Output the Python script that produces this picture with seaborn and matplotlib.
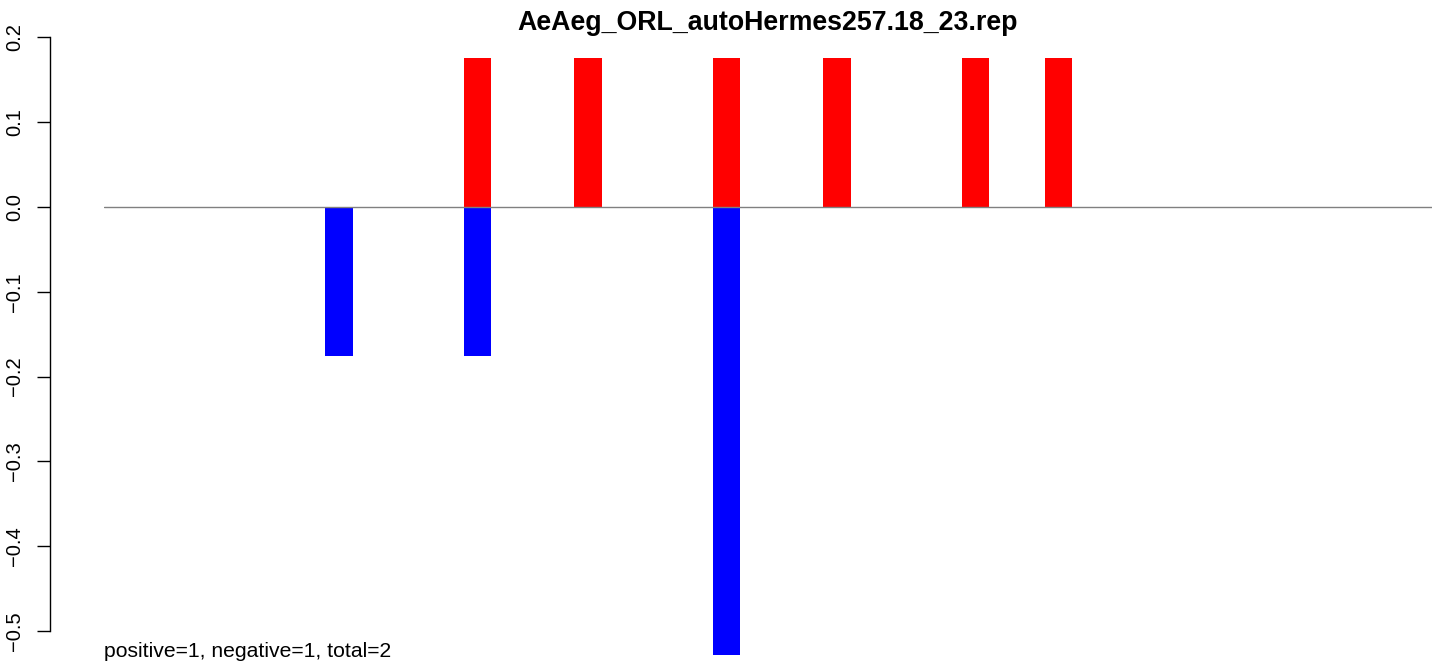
import matplotlib
matplotlib.use("Agg")
import matplotlib.pyplot as plt
import seaborn as sns
import numpy as np
import pandas as pd

# bar slots along the sequence (48 slots, index 0..47)
n_slots = 48
pos_idx = [13, 17, 22, 26, 31, 34]
pos_val = [0.176, 0.176, 0.176, 0.176, 0.176, 0.176]
neg_idx = [8, 13, 22]
neg_val = [-0.176, -0.176, -0.528]
yticks = [-0.5, -0.4, -0.3, -0.2, -0.1, 0.0, 0.1, 0.2]
title = "AeAeg_ORL_autoHermes257.18_23.rep"
note = "positive=1, negative=1, total=2"

df = pd.DataFrame({
    "slot": pos_idx + neg_idx,
    "value": pos_val + neg_val,
    "sign": ["pos"] * len(pos_idx) + ["neg"] * len(neg_idx),
})

sns.set_style("white")
plt.rcParams['font.family'] = ['Liberation Sans', 'DejaVu Sans']
plt.rcParams['text.color'] = 'black'
plt.rcParams['ytick.color'] = 'black'

fig = plt.figure(figsize=(14.41, 6.66), dpi=100)
W, H = 1441, 666
# axes placed in pixel coords: x 104..1432, y 30..660
ax = fig.add_axes([104 / W, 1 - 660 / H, (1432 - 104) / W, (660 - 30) / H])

sns.barplot(data=df, x="slot", y="value", hue="sign", order=list(range(n_slots)),
            palette={"pos": "#ff0000", "neg": "#0000ff"}, dodge=False,
            width=1.0, saturation=1, linewidth=0, errorbar=None, legend=False, ax=ax)

ax.axhline(0, color="#808080", lw=1, zorder=5)

ax.set_xlim(-0.5, n_slots - 0.5)
ax.set_ylim(-(660 - 207) / 848, (207 - 30) / 848)
ax.set_xticks([])
ax.set_xlabel("")
ax.set_ylabel("")
for s in ["top", "right", "bottom"]:
    ax.spines[s].set_visible(False)
ax.spines["left"].set_position(("outward", 54 * 72 / 100))
ax.spines["left"].set_bounds(-0.5, 0.2)
ax.spines["left"].set_color("black")
ax.spines["left"].set_linewidth(1)
ax.set_yticks(yticks)
ax.set_yticklabels([f"{v:.1f}".replace("-", "\u2212") for v in yticks],
                   rotation=90, va="center", fontsize=14.5, color="black")
ax.tick_params(axis="y", left=True, length=9.4, width=1, pad=9.5, color="black")

ax.text(-0.5, -0.5307, note, fontsize=15.2, ha="left", va="baseline", color="black")
fig.text(768 / W, 1 - 23 / H, title, fontsize=19.3, fontweight="bold",
         ha="center", va="center", color="black")

fig.savefig("out.png", dpi=100)
